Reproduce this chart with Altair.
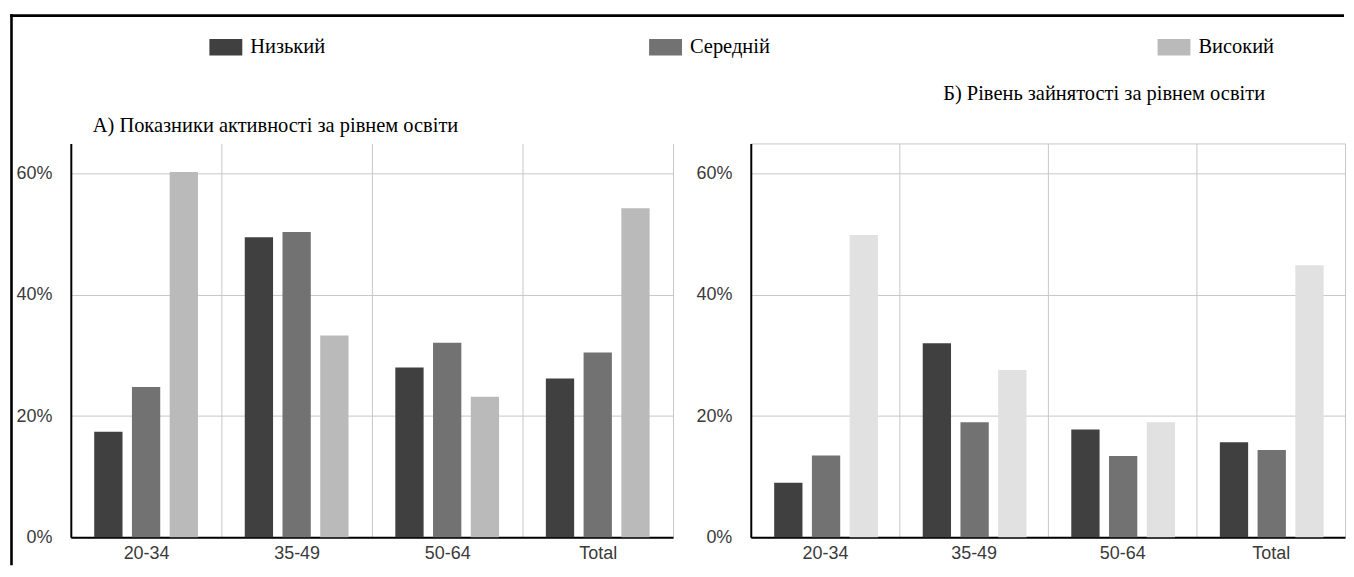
import altair as alt
import pandas as pd

categories = ["20-34", "35-49", "50-64", "Total"]
levels = ["Низький", "Середній", "Високий"]

# A) activity rates by education level (%)
activity_low = [17.4, 49.5, 28.0, 26.2]
activity_mid = [24.8, 50.4, 32.1, 30.5]
activity_high = [60.3, 33.3, 23.2, 54.3]

# Б) employment rates by education level (%)
employment_low = [9.0, 32.0, 17.8, 15.7]
employment_mid = [13.5, 19.0, 13.4, 14.4]
employment_high = [49.9, 27.6, 19.0, 44.9]

title_a = ["А) Показники активності за рівнем освіти"]
title_b = ["Б) Рівень зайнятості за рівнем освіти"]

y_ticks_a = [0, 0.2, 0.4, 0.6]
y_ticks_b = [0, 0.2, 0.4, 0.6, 0.65]

colors = ["#404040", "#727272", "#bababa"]
light_high_b = "#e1e1e1"


def long_df(low, mid, high):
    rows = []
    for series, vals in zip(levels, [low, mid, high]):
        for c, v in zip(categories, vals):
            rows.append({"group": c, "level": series, "value": v / 100})
    return pd.DataFrame(rows)


SANS = "Liberation Sans, Arial, sans-serif"
SERIF = "Liberation Serif, Times New Roman, serif"
H = 395
FS_SERIF = 20.5
FS_AXIS = 18


def make_legend(values, x, y):
    return alt.Legend(
        title=None, orient="none", legendX=x, legendY=y,
        direction="horizontal", values=values,
        symbolType="M-1,-0.5L1,-0.5L1,0.5L-1,0.5Z", symbolSize=1089,
        symbolStrokeWidth=0, symbolOpacity=1,
        labelFont=SERIF, labelFontSize=FS_SERIF, labelColor="black",
        labelOffset=8, labelLimit=400, columnPadding=324,
    )


def panel(df, width, title_rows, title_dx, title_dy, y_values, legend, high_override=None):
    color_field = alt.Color(
        "level:N", sort=levels,
        scale=alt.Scale(domain=levels, range=colors),
        legend=legend,
    )
    if high_override is not None:
        color_enc = alt.condition(
            alt.datum.level == levels[2], alt.value(high_override), color_field
        )
    else:
        color_enc = color_field

    bars = alt.Chart(df).mark_bar().encode(
        x=alt.X(
            "group:N", sort=categories, title=None,
            scale=alt.Scale(paddingInner=0, paddingOuter=0),
            axis=alt.Axis(
                labelAngle=0, labelFont=SANS, labelFontSize=FS_AXIS, labelColor="#3a3a3a",
                labelPadding=7, ticks=False, domainColor="black", domainWidth=2,
                grid=True, gridColor="#c8c8c8", gridWidth=1, tickBand="extent",
            ),
        ),
        xOffset=alt.XOffset(
            "level:N", sort=levels,
            scale=alt.Scale(paddingInner=0.25, paddingOuter=0.62),
        ),
        y=alt.Y(
            "value:Q", title=None,
            scale=alt.Scale(domain=[0, 0.65], nice=False, zero=True),
            axis=alt.Axis(
                values=y_values, format=".0%",
                labelExpr="datum.value > 0.62 ? '' : datum.label",
                labelFont=SANS, labelFontSize=FS_AXIS, labelColor="#3a3a3a",
                labelPadding=19, ticks=False, domainColor="black", domainWidth=2,
                grid=True, gridColor="#c8c8c8", gridWidth=1,
            ),
        ),
        color=color_enc,
    ).properties(width=width, height=H)

    title = alt.Chart(pd.DataFrame({"t": title_rows})).mark_text(
        align="left", baseline="alphabetic", font=SERIF, fontSize=FS_SERIF,
        color="black",
    ).encode(text="t:N", x=alt.value(title_dx), y=alt.value(title_dy))
    return bars, title


left_bars, left_title = panel(
    long_df(activity_low, activity_mid, activity_high), 604,
    title_a, 22, -11, y_ticks_a, make_legend(levels[:2], 139, -113),
)
right_bars, right_title = panel(
    long_df(employment_low, employment_mid, employment_high), 596,
    title_b, 193, -44, y_ticks_b, make_legend(levels[2:], 408, -113),
    high_override=light_high_b,
)

one = pd.DataFrame({"k": [0]})
frame_left = alt.Chart(one).mark_rule(color="black", strokeWidth=2.6).encode(
    x=alt.value(-59.5), y=alt.value(-129.5), y2=alt.value(423)
)
frame_top = alt.Chart(one).mark_rule(color="black", strokeWidth=2.6).encode(
    x=alt.value(-60.8), x2=alt.value(1277), y=alt.value(-128.2)
)

left = alt.layer(left_bars, left_title, frame_left, frame_top)
right = alt.layer(right_bars, right_title)

chart = alt.hconcat(left, right, spacing=78, bounds="flush").resolve_scale(
    color="independent"
).properties(
    padding={"left": 0, "top": 4, "right": 0, "bottom": 0}
).configure_view(stroke=None)

chart.save("out.html", embed_options={"renderer": "svg", "actions": False})
